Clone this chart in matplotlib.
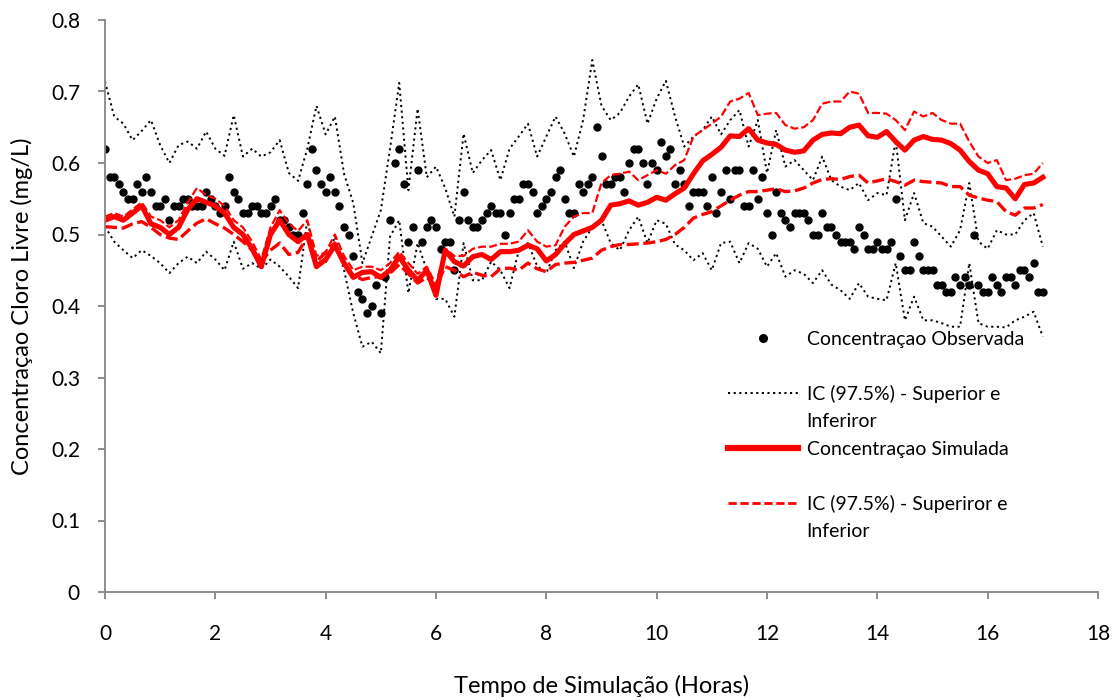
import numpy as np
import matplotlib
matplotlib.use("Agg")
import matplotlib.pyplot as plt
from matplotlib.lines import Line2D
from matplotlib import ticker

# concentracao observada, uma leitura a cada 5 min (0 a 17 h)
obs_passo = 1 / 12
obs = [0.62, 0.58, 0.58, 0.57, 0.56, 0.55, 0.55, 0.57, 0.56, 0.58, 0.56, 0.54,
       0.54, 0.55, 0.52, 0.54, 0.54, 0.55, 0.55, 0.54, 0.54, 0.54, 0.56, 0.55,
       0.54, 0.53, 0.54, 0.58, 0.56, 0.55, 0.53, 0.53, 0.54, 0.54, 0.53, 0.53,
       0.54, 0.55, 0.52, 0.52, 0.51, 0.50, 0.50, 0.53, 0.57, 0.62, 0.59, 0.57,
       0.56, 0.58, 0.56, 0.54, 0.51, 0.50, 0.47, 0.42, 0.41, 0.39, 0.40, 0.43,
       0.39, 0.44, 0.52, 0.60, 0.62, 0.57, 0.49, 0.51, 0.59, 0.49, 0.51, 0.52,
       0.51, 0.48, 0.49, 0.49, 0.45, 0.52, 0.56, 0.52, 0.51, 0.51, 0.52, 0.53,
       0.54, 0.53, 0.53, 0.50, 0.53, 0.55, 0.55, 0.57, 0.57, 0.56, 0.53, 0.54,
       0.55, 0.56, 0.58, 0.59, 0.55, 0.53, 0.53, 0.57, 0.56, 0.57, 0.58, 0.65,
       0.61, 0.57, 0.57, 0.58, 0.58, 0.56, 0.60, 0.62, 0.62, 0.60, 0.57, 0.60,
       0.59, 0.63, 0.61, 0.62, 0.57, 0.59, 0.57, 0.54, 0.56, 0.56, 0.56, 0.54,
       0.58, 0.53, 0.56, 0.59, 0.55, 0.59, 0.59, 0.54, 0.54, 0.59, 0.55, 0.58,
       0.53, 0.50, 0.56, 0.53, 0.52, 0.51, 0.53, 0.53, 0.53, 0.52, 0.50, 0.50,
       0.53, 0.51, 0.51, 0.50, 0.49, 0.49, 0.49, 0.48, 0.51, 0.50, 0.48, 0.48,
       0.49, 0.48, 0.48, 0.49, 0.55, 0.47, 0.45, 0.45, 0.49, 0.47, 0.45, 0.45,
       0.45, 0.43, 0.43, 0.42, 0.42, 0.44, 0.43, 0.44, 0.43, 0.50, 0.43, 0.42,
       0.42, 0.44, 0.43, 0.42, 0.44, 0.44, 0.43, 0.45, 0.45, 0.44, 0.46, 0.42,
       0.42]

# series do modelo, a cada 10 min
sim_passo = 1 / 6
simulada = [0.520, 0.525, 0.520, 0.530, 0.540, 0.515, 0.510, 0.500, 0.510, 0.535,
            0.550, 0.545, 0.540, 0.530, 0.510, 0.500, 0.480, 0.455, 0.500, 0.520,
            0.500, 0.490, 0.500, 0.455, 0.465, 0.485, 0.460, 0.440, 0.447, 0.448,
            0.440, 0.450, 0.469, 0.450, 0.436, 0.450, 0.415, 0.478, 0.462, 0.456,
            0.469, 0.472, 0.465, 0.476, 0.476, 0.478, 0.485, 0.480, 0.463, 0.472,
            0.487, 0.500, 0.505, 0.510, 0.520, 0.541, 0.543, 0.547, 0.541, 0.545,
            0.552, 0.548, 0.557, 0.565, 0.585, 0.603, 0.612, 0.622, 0.638, 0.637,
            0.648, 0.632, 0.628, 0.626, 0.618, 0.615, 0.617, 0.632, 0.640, 0.642,
            0.641, 0.650, 0.653, 0.638, 0.636, 0.644, 0.630, 0.618, 0.632, 0.637,
            0.633, 0.632, 0.627, 0.618, 0.602, 0.590, 0.585, 0.567, 0.565, 0.550,
            0.570, 0.572, 0.580]
sim_sup = [0.525, 0.530, 0.525, 0.535, 0.545, 0.525, 0.520, 0.510, 0.520, 0.545,
           0.565, 0.555, 0.550, 0.540, 0.520, 0.510, 0.490, 0.465, 0.510, 0.534,
           0.515, 0.505, 0.520, 0.470, 0.475, 0.500, 0.470, 0.450, 0.455, 0.455,
           0.450, 0.460, 0.476, 0.460, 0.445, 0.455, 0.430, 0.480, 0.470, 0.470,
           0.480, 0.483, 0.483, 0.487, 0.487, 0.490, 0.506, 0.490, 0.483, 0.485,
           0.511, 0.525, 0.530, 0.530, 0.572, 0.583, 0.585, 0.588, 0.576, 0.583,
           0.590, 0.585, 0.597, 0.604, 0.637, 0.646, 0.655, 0.665, 0.686, 0.690,
           0.698, 0.667, 0.669, 0.670, 0.653, 0.648, 0.650, 0.660, 0.683, 0.686,
           0.686, 0.700, 0.697, 0.670, 0.670, 0.669, 0.660, 0.646, 0.672, 0.665,
           0.670, 0.660, 0.655, 0.655, 0.630, 0.609, 0.600, 0.604, 0.576, 0.578,
           0.583, 0.585, 0.600]
sim_inf = [0.511, 0.510, 0.509, 0.515, 0.518, 0.510, 0.500, 0.495, 0.493, 0.505,
           0.516, 0.522, 0.515, 0.509, 0.500, 0.490, 0.478, 0.462, 0.478, 0.488,
           0.472, 0.475, 0.497, 0.462, 0.475, 0.488, 0.458, 0.443, 0.437, 0.440,
           0.441, 0.446, 0.458, 0.445, 0.432, 0.440, 0.428, 0.455, 0.450, 0.441,
           0.447, 0.443, 0.441, 0.452, 0.453, 0.450, 0.460, 0.452, 0.448, 0.458,
           0.460, 0.461, 0.464, 0.467, 0.478, 0.483, 0.486, 0.486, 0.487, 0.488,
           0.490, 0.493, 0.500, 0.510, 0.523, 0.528, 0.532, 0.540, 0.548, 0.555,
           0.560, 0.560, 0.562, 0.564, 0.560, 0.561, 0.565, 0.572, 0.577, 0.578,
           0.577, 0.581, 0.583, 0.572, 0.575, 0.578, 0.574, 0.569, 0.576, 0.574,
           0.573, 0.572, 0.567, 0.567, 0.555, 0.551, 0.548, 0.546, 0.532, 0.527,
           0.537, 0.537, 0.542]
obs_sup = [0.714, 0.665, 0.655, 0.632, 0.645, 0.660, 0.625, 0.600, 0.625, 0.630,
           0.620, 0.644, 0.620, 0.610, 0.667, 0.609, 0.620, 0.609, 0.615, 0.632,
           0.586, 0.575, 0.620, 0.680, 0.640, 0.665, 0.585, 0.544, 0.460, 0.497,
           0.534, 0.620, 0.712, 0.562, 0.676, 0.580, 0.595, 0.565, 0.525, 0.641,
           0.586, 0.604, 0.618, 0.576, 0.620, 0.637, 0.655, 0.609, 0.637, 0.665,
           0.641, 0.609, 0.660, 0.744, 0.680, 0.660, 0.670, 0.693, 0.710, 0.655,
           0.690, 0.715, 0.665, 0.623, 0.637, 0.646, 0.665, 0.640, 0.660, 0.674,
           0.623, 0.660, 0.586, 0.646, 0.595, 0.604, 0.590, 0.576, 0.609, 0.576,
           0.567, 0.562, 0.572, 0.548, 0.558, 0.555, 0.632, 0.520, 0.558, 0.516,
           0.511, 0.497, 0.483, 0.506, 0.572, 0.490, 0.480, 0.506, 0.500, 0.500,
           0.520, 0.530, 0.483]
obs_inf = [0.511, 0.490, 0.478, 0.467, 0.478, 0.470, 0.460, 0.446, 0.460, 0.469,
           0.460, 0.476, 0.465, 0.450, 0.490, 0.452, 0.460, 0.452, 0.465, 0.455,
           0.441, 0.425, 0.520, 0.460, 0.460, 0.497, 0.450, 0.390, 0.343, 0.350,
           0.334, 0.497, 0.520, 0.418, 0.488, 0.450, 0.410, 0.410, 0.385, 0.488,
           0.436, 0.436, 0.462, 0.450, 0.425, 0.478, 0.488, 0.456, 0.446, 0.478,
           0.490, 0.453, 0.490, 0.510, 0.520, 0.488, 0.478, 0.506, 0.525, 0.488,
           0.520, 0.515, 0.486, 0.478, 0.464, 0.474, 0.450, 0.488, 0.490, 0.460,
           0.488, 0.480, 0.455, 0.474, 0.441, 0.450, 0.445, 0.432, 0.450, 0.430,
           0.422, 0.410, 0.432, 0.413, 0.410, 0.408, 0.460, 0.380, 0.413, 0.380,
           0.380, 0.376, 0.371, 0.371, 0.460, 0.376, 0.371, 0.371, 0.370, 0.380,
           0.385, 0.392, 0.357]

t_obs = np.arange(len(obs)) * obs_passo
t_sim = np.arange(len(simulada)) * sim_passo

plt.rcParams['font.family'] = ['Lato', 'DejaVu Sans']
plt.rcParams['font.size'] = 14

fig = plt.figure(figsize=(11.16, 7), dpi=100)
ax = fig.add_axes([105 / 1116, 108 / 700, 993 / 1116, 572 / 700])

cinza = '#868686'
pontilhado = (0, (1.1, 1.8))
tracejado = (0, (3.6, 1.4))

ax.plot(t_obs, obs, linestyle='none', marker='o', markersize=5, color='black')
ax.plot(t_sim, obs_sup, color='black', lw=1.4, linestyle=pontilhado)
ax.plot(t_sim, obs_inf, color='black', lw=1.4, linestyle=pontilhado)
ax.plot(t_sim, simulada, color='red', lw=3.7, solid_joinstyle='round')
ax.plot(t_sim, sim_sup, color='red', lw=1.6, linestyle=tracejado)
ax.plot(t_sim, sim_inf, color='red', lw=2.4, linestyle=tracejado)

ax.set_xlim(0, 18)
ax.set_ylim(0, 0.8)
ax.set_xticks(np.arange(0, 19, 2))
ax.set_yticks(np.arange(0, 0.81, 0.1))
ax.yaxis.set_major_formatter(ticker.FuncFormatter(lambda v, _: '0' if abs(v) < 1e-9 else f'{v:.1f}'))

for lado in ['top', 'right']:
    ax.spines[lado].set_visible(False)
for lado in ['left', 'bottom']:
    ax.spines[lado].set_color(cinza)
    ax.spines[lado].set_linewidth(1.3)
ax.tick_params(axis='both', direction='out', length=5, width=1.3, color=cinza, labelsize=15)
ax.tick_params(axis='x', pad=18)
ax.tick_params(axis='y', pad=13)

ax.set_xlabel('Tempo de Simulação (Horas)', fontsize=17, labelpad=22)
ax.set_ylabel('Concentraçao Cloro Livre (mg/L)', fontsize=17, labelpad=13)

# legenda com linhas vazias para imitar o espaçamento do Excel
vazio = Line2D([], [], linestyle='none')
handles = [
    Line2D([], [], linestyle='none', marker='o', markersize=5.5, color='black'),
    vazio,
    Line2D([], [], color='black', lw=1.4, linestyle=pontilhado),
    vazio,
    Line2D([], [], color='red', lw=4.5),
    vazio,
    Line2D([], [], color='red', lw=2, linestyle=(0, (3, 1.3))),
    vazio,
]
labels = ['Concentraçao Observada', ' ', 'IC (97.5%) - Superior e', 'Inferiror',
          'Concentraçao Simulada', ' ', 'IC (97.5%) - Superiror e', 'Inferior']
ax.legend(handles, labels, loc='upper left', bbox_to_anchor=(728 / 1116, 1 - 331 / 700),
          bbox_transform=fig.transFigure, frameon=False, fontsize=14,
          handlelength=3.6, handletextpad=0.45, labelspacing=0.52,
          borderpad=0, borderaxespad=0)

fig.savefig('out.png', dpi=100)
